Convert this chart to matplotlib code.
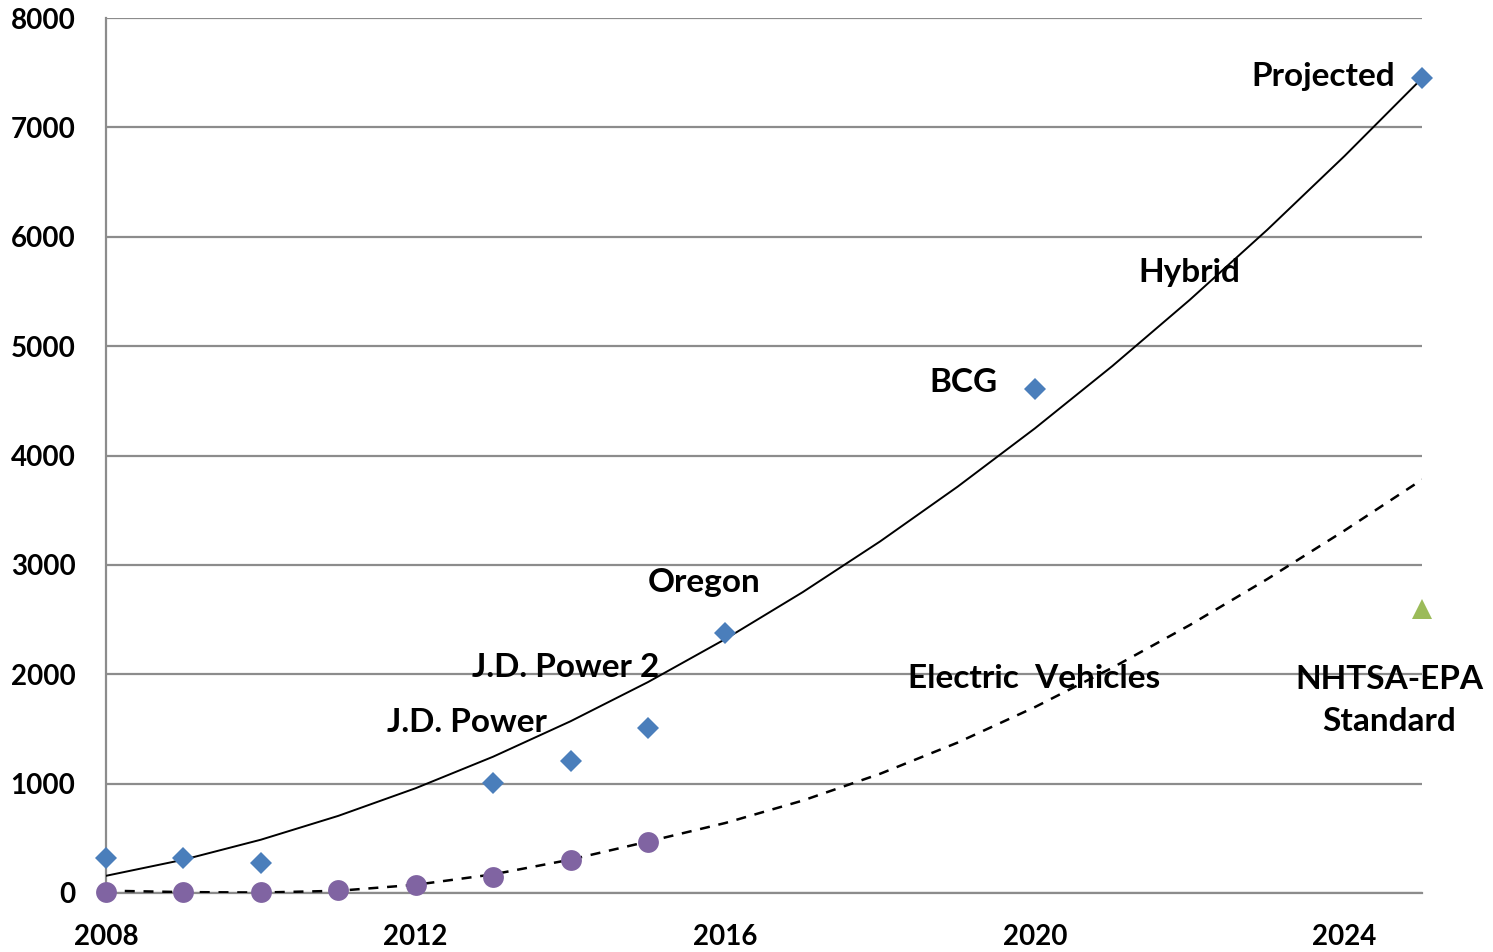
import matplotlib
matplotlib.use('Agg')
import matplotlib.pyplot as plt

# values
hybrid_years = [2008, 2009, 2010, 2013, 2014, 2015, 2016, 2020, 2025]
hybrid_values = [320, 320, 278, 1005, 1207, 1506, 2380, 4605, 7450]

ev_years = [2008, 2009, 2010, 2011, 2012, 2013, 2014, 2015]
ev_values = [8, 8, 10, 27, 73, 150, 302, 470]

standard_year = [2025]
standard_value = [2600]

# trendlines as drawn in the reference, read at every year
trend_years = list(range(2008, 2026))
hybrid_trend = [157, 304, 487, 705, 958, 1246, 1570, 1928, 2322, 2751,
                3215, 3715, 4249, 4819, 5424, 6064, 6740, 7450]
ev_trend = [21, 8, 4, 20, 75, 170, 305, 470, 640, 845,
            1090, 1375, 1700, 2060, 2450, 2870, 3315, 3780]

plt.rcParams['font.family'] = ['Lato', 'DejaVu Sans']

fig = plt.figure(figsize=(14.93, 9.52), dpi=100)
ax = fig.add_axes([0.071, 0.062, 0.8815, 0.919])

grid_col = '#8c8c8c'

ax.plot(trend_years, hybrid_trend, color='black', lw=1.4, zorder=3)
ax.plot(trend_years, ev_trend, color='black', lw=1.8, dashes=(4, 3.5), zorder=3)

ax.plot(hybrid_years, hybrid_values, 'D', color='#4a7ebb', ms=11.5, mew=0,
        zorder=4, clip_on=False)
ax.plot(ev_years, ev_values, 'o', color='#8064a2', ms=15, mew=0,
        zorder=4, clip_on=False)
ax.plot(standard_year, standard_value, '^', color='#9bbb59', ms=14, mew=0,
        zorder=4, clip_on=False)

ax.set_xlim(2008, 2025)
ax.set_ylim(0, 8000)
ax.set_xticks([2008, 2012, 2016, 2020, 2024])
ax.set_yticks(range(0, 8001, 1000))
ax.yaxis.grid(True, color=grid_col, lw=1.6)
ax.set_axisbelow(True)
ax.tick_params(length=0, labelsize=20)
for t in ax.get_xticklabels() + ax.get_yticklabels():
    t.set_fontweight('bold')
ax.tick_params(axis='y', pad=22)
ax.tick_params(axis='x', pad=22)
for s in ['top', 'right']:
    ax.spines[s].set_visible(False)
for s in ['left', 'bottom']:
    ax.spines[s].set_color(grid_col)
    ax.spines[s].set_linewidth(1.6)

lab = dict(fontsize=24, fontweight='bold', ha='center', va='center', zorder=5)
ax.text(2023.72, 7470, 'Projected', **lab)
ax.text(2021.99, 5670, 'Hybrid', **lab)
ax.text(2019.08, 4670, 'BCG', **lab)
ax.text(2015.73, 2835, 'Oregon', **lab)
ax.text(2013.94, 2060, 'J.D. Power 2', **lab)
ax.text(2012.66, 1560, 'J.D. Power', **lab)
ax.text(2019.99, 1965, 'Electric  Vehicles', **lab)
ax.text(2024.58, 1760, 'NHTSA-EPA\nStandard', linespacing=1.55, clip_on=False, **lab)

fig.savefig('out.png', dpi=100)
